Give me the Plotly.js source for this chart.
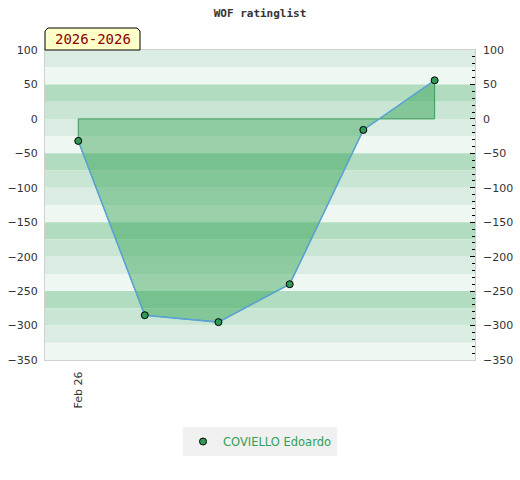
<!DOCTYPE html>
<html><head><meta charset="utf-8">
<script src="https://cdn.plot.ly/plotly-3.0.1.min.js"></script>
<style>body{margin:0;background:#fff}#chart{width:520px;height:480px}</style>
</head><body><div id="chart"></div>
<script>
const dates = ['2026-02-01','2026-03-01','2026-04-01','2026-05-01','2026-06-01','2026-07-01'];
const ratings = [-32, -285, -295, -240, -16, 56];
const playerName = 'COVIELLO Edoardo';
const tickDates = ['2026-02-01'];
const tickLabels = ['Feb 26'];
const periodLabel = '2026-2026';
const chartTitle = 'WOF ratinglist';

const yMin = -350, yMax = 100;
const bandColors = ['#dbede2', '#eef7f1', '#b2dcc0', '#c8e6d3'];
const shapes = [];
for (let top = yMax, i = 0; top > yMin; top -= 25, i++) {
  shapes.push({type:'rect', xref:'paper', yref:'y', x0:0, x1:1, y0:top-25, y1:top,
    fillcolor: bandColors[i % 4], line:{width:0}, layer:'below'});
}
// label box with clipped top corners (paper coords: plot is 430 x 310 px)
const pw = 430, ph = 310, bw = 95, bh = 22, c = 3;
shapes.push({type:'path', xref:'paper', yref:'paper', layer:'above',
  path: `M 0,1 L 0,${1+(bh-c)/ph} L ${c/pw},${1+bh/ph} L ${(bw-c)/pw},${1+bh/ph} L ${bw/pw},${1+(bh-c)/ph} L ${bw/pw},1 Z`,
  fillcolor:'#ffffc8', line:{color:'#000', width:1}});

const fillX = [dates[0]].concat(dates, [dates[dates.length-1], dates[0]]);
const fillY = [0].concat(ratings, [0, 0]);

const traces = [
  {x: fillX, y: fillY, type:'scatter', mode:'lines', fill:'toself',
   fillcolor:'rgba(27,152,64,0.4)', line:{color:'#3d9b5c', width:1},
   hoverinfo:'skip', showlegend:false},
  {x: dates, y: ratings, type:'scatter', mode:'lines+markers', name: playerName,
   line:{color:'#5ba3d9', width:1.5},
   marker:{color:'#2f9a56', size:7, line:{color:'#000', width:1}},
   showlegend:false},
  {x:[null], y:[null], type:'scatter', mode:'markers', name: playerName,
   marker:{color:'#2f9a56', size:7, line:{color:'#000', width:1}}, showlegend:true},
  {x:[dates[0]], y:[0], yaxis:'y2', mode:'markers', marker:{opacity:0}, hoverinfo:'skip', showlegend:false}
];

const layout = {
  width:520, height:480,
  margin:{l:45, r:45, t:50, b:120},
  paper_bgcolor:'#fff', plot_bgcolor:'#fff',
  font:{family:'DejaVu Sans', size:11, color:'#333'},
  title:{text: chartTitle, x:0.5, xanchor:'center', y:1-13/480, yanchor:'middle', yref:'container',
    font:{family:'DejaVu Sans Mono', size:11, color:'#333', weight:'bold'}},
  xaxis:{type:'date', range:['2026-01-18','2026-07-18'], tickmode:'array',
    tickvals: tickDates, ticktext: tickLabels, tickangle:-90, ticklabelstandoff:6,
    showgrid:false, zeroline:false, showline:true, mirror:true, linecolor:'#d0d0d0', linewidth:1,
    ticks:'', tickfont:{size:11, color:'#333'}, fixedrange:true},
  yaxis:{range:[yMin, yMax], dtick:50, tick0:0, showgrid:false, zeroline:false,
    showline:true, mirror:true, linecolor:'#d0d0d0', linewidth:1, ticks:'', ticklabelstandoff:4,
    tickfont:{size:11, color:'#333'}},
  yaxis2:{range:[yMin, yMax], dtick:50, tick0:0, overlaying:'y', side:'right',
    showgrid:false, zeroline:false, showline:false, ticks:'inside', ticklen:5, tickcolor:'#000', tickwidth:1,
    ticklabelstandoff:7,
    minor:{dtick:10, tick0:0, ticks:'inside', ticklen:3, tickcolor:'#000', tickwidth:1, showgrid:false},
    tickfont:{size:11, color:'#333'}},
  shapes: shapes,
  showlegend:true,
  legend:{orientation:'h', x:0.5, xanchor:'center', y:-(427-360)/310, yanchor:'top',
    bgcolor:'#f0f0f0', font:{size:11.5, color:'#2ea055'}},
  annotations:[{xref:'paper', yref:'paper', x:bw/2/pw, y:1+bh/2/ph, xanchor:'center', yanchor:'middle',
    text: periodLabel, showarrow:false,
    font:{family:'DejaVu Sans Mono', size:14, color:'#8b0000'}}]
};
Plotly.newPlot('chart', traces, layout, {displayModeBar:false, staticPlot:true});
</script></body></html>
